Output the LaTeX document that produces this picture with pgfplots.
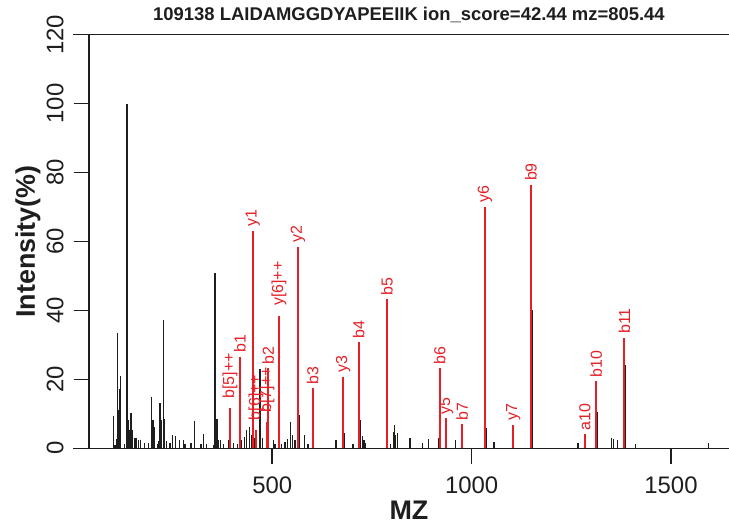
\documentclass[border=0pt]{standalone}
\usepackage{fontspec}
\setmainfont{Liberation Sans}
\usepackage{pgfplots}
\pgfplotsset{compat=1.18}
\definecolor{pkred}{RGB}{228,32,38}
\definecolor{pkblack}{RGB}{30,30,30}
\newcommand\gp{\hspace*{6bp}}
\begin{document}
\begin{tikzpicture}
\begin{axis}[
  width=640bp, height=413.6bp, scale only axis,
  xmin=40.3, xmax=1645.5, ymin=0, ymax=120,
  axis x line*=bottom, axis y line*=left,
  axis line style={line width=1.6bp, -, pkblack},
  xtick={500,1000,1500}, ytick={0,20,...,120},
  minor tick num=0,
  tick align=outside, major tick length=15.5bp,
  tick style={line width=1.6bp, pkblack},
  /pgf/number format/assume math mode=true,
  /pgf/number format/set thousands separator={},
  tick label style={font=\fontsize{24}{28}\selectfont, inner sep=0pt, text=pkblack},
  xticklabel style={anchor=base, yshift=-29.5bp},
  yticklabel style={rotate=90, anchor=base, yshift=10.2bp},
  title={109138 LAIDAMGGDYAPEEIIK ion\_score=42.44 mz=805.44},
  title style={at={(0.5,1)}, anchor=base, yshift=8bp, inner sep=0pt, font=\bfseries\fontsize{18.5}{22}\selectfont, text=pkblack},
  xlabel={MZ},
  xlabel style={at={(0.5,0)}, anchor=base, yshift=-71.5bp, inner sep=0pt, font=\bfseries\fontsize{27}{32}\selectfont, text=pkblack},
  ylabel={Intensity(\%)},
  ylabel style={at={(0,0.5)}, anchor=base, yshift=54bp, inner sep=0pt, font=\bfseries\fontsize{27}{32}\selectfont, text=pkblack},
  clip=false,
]
\addplot[ycomb, mark=none, pkblack, line width=1.1bp] table {
mz int
101.2 1.0
102.2 9.4
105.5 1.0
109.8 2.6
112.3 33.4
114.8 11.1
117.3 17.1
119.8 21.0
128.8 1.2
135.6 100
138.1 8.2
140.6 5.3
145.6 10.2
148.9 5.4
155.6 3.0
158.2 3.1
164.0 2.5
169.0 2.5
179.0 1.5
189.0 1.5
197.5 14.8
200.8 8.2
204.1 6.3
211.6 1.2
215.1 2.0
218.3 13.1
221.6 8.1
226.6 37.2
230.1 8.5
234.2 2.0
243.4 1.5
250.2 3.9
257.7 3.6
267.8 2.3
277.8 2.3
281.1 1.2
296.1 1.5
304.4 7.8
321.2 1.2
327.9 4.1
335.5 1.3
353.0 1.0
356.3 50.9
358.0 7.2
361.3 8.6
364.6 2.5
369.6 2.3
377.1 1.3
389.7 2.4
402.2 1.6
412.2 1.2
423.3 2.4
429.8 3.4
435.8 5.3
442.3 6.3
448.3 3.9
454.9 2.9
469.2 22.9
475.9 2.9
502.5 2.4
506.8 1.2
523.6 1.2
531.9 1.7
538.6 2.6
546.1 7.7
551.2 3.9
556.9 2.4
567.0 9.7
581.3 3.9
589.5 1.3
659.8 2.5
679.8 4.5
702.4 1.2
720.0 8.3
726.7 3.5
730.0 2.5
733.3 1.5
789.4 16.0
797.0 1.2
803.5 4.8
806.0 6.7
808.5 3.8
813.5 4.5
845.4 3.1
876.2 1.5
891.3 2.8
918.0 3.0
960.0 2.3
1036.0 5.9
1056.0 1.8
1106.0 4.0
1152.0 40.0
1266.7 1.4
1315.0 10.6
1351.2 3.0
1355.2 2.8
1365.3 2.5
1386.3 24.2
1412.0 1.2
1594.5 1.4
};
\addplot[ycomb, mark=none, pkred, line width=2bp,
  nodes near coords, point meta=explicit symbolic,
  every node near coord/.append style={rotate=90, anchor=west, inner sep=0pt, xshift=3bp, text=pkred, font=\fontsize{16}{19}\selectfont}]
  table[meta=label] {
mz int label
393.9 11.6 {\gp}b[5]++
419.0 26.6 b1
451.1 63.1 y1
459.1 5.3 {\gp}b[6]++
486.8 7.5 {\gp}b[7]++
490.0 23.2 b2
516.8 38.4 {\gp}y[6]++
564.5 58.5 y2
601.3 17.4 b3
678.1 20.8 y3
716.7 30.8 b4
787.7 43.3 b5
919.8 23.2 b6
936.4 8.7 y5
976.5 7.0 b7
1033.5 70.1 y6
1104.4 6.8 y7
1148.8 76.4 b9
1284.2 4.1 a10
1312.6 19.5 b10
1383.3 32.1 b11
};
\draw[line width=1.6bp, pkblack] ([xshift=-15.5bp]rel axis cs:0,0) -- (rel axis cs:1,0);
\draw[line width=1.6bp, pkblack] ([xshift=-15.5bp]rel axis cs:0,1) -- (rel axis cs:1,1);
\end{axis}
\pgfresetboundingbox
\path (-89bp,-76.7bp) rectangle (640bp,448.3bp);
\end{tikzpicture}
\end{document}
